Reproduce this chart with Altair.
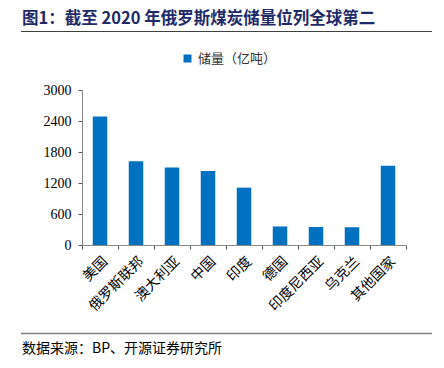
import altair as alt
import pandas as pd

categories = ["美国", "俄罗斯联邦", "澳大利亚", "中国", "印度", "德国", "印度尼西亚", "乌克兰", "其他国家"]
reserves = [2489, 1622, 1502, 1432, 1110, 359, 349, 344, 1533]
series_name = "储量（亿吨）"
y_ticks = [0, 600, 1200, 1800, 2400, 3000]
title_text = "图1：截至 2020 年俄罗斯煤炭储量位列全球第二"
source_text = "数据来源：BP、开源证券研究所"

df = pd.DataFrame({"国家": categories, "储量": reserves, "系列": [series_name] * len(categories)})
one = pd.DataFrame({"k": [0]})

CJK = "Noto Sans CJK SC"
SERIF = "Liberation Serif"

bars = alt.Chart(df).mark_bar(size=14.5, color="#0070C0").encode(
    x=alt.X("国家:N", sort=categories,
            scale=alt.Scale(paddingInner=0, paddingOuter=0),
            axis=alt.Axis(title=None, labelAngle=-45, labelFont=CJK, labelFontSize=14,
                          labelFontWeight="normal",
                          labelColor="#000000", tickBand="extent", tickSize=4,
                          tickColor="#555555", domainColor="#888888", labelPadding=5)),
    y=alt.Y("储量:Q", scale=alt.Scale(domain=[0, 3000], nice=False),
            axis=alt.Axis(title=None, values=y_ticks, format="d", grid=False, labelFont=SERIF,
                          labelFontSize=14, labelColor="#000000", tickSize=4,
                          tickColor="#555555", domainColor="#888888", labelPadding=7)),
    color=alt.Color("系列:N", scale=alt.Scale(range=["#0070C0"]),
                    legend=alt.Legend(title=None, orient="none", legendX=99, legendY=-38,
                                      symbolType="square", symbolSize=64,
                                      labelFont=CJK, labelFontSize=13, labelColor="#333333")),
)

title = alt.Chart(one).mark_text(text=title_text, align="left", baseline="middle",
                                 font=CJK, fontSize=16.5, fontWeight="bold",
                                 color="#1F2A68").encode(x=alt.value(-60), y=alt.value(-71))
top_line = alt.Chart(one).mark_rule(color="#404040", strokeWidth=1).encode(
    x=alt.value(-61), x2=alt.value(350), y=alt.value(-58.5))
bottom_line = alt.Chart(one).mark_rule(color="#808080", strokeWidth=1.7).encode(
    x=alt.value(-61), x2=alt.value(350), y=alt.value(243.5))
source = alt.Chart(one).mark_text(text=source_text, align="left", baseline="middle",
                                  font=CJK, fontSize=14, color="#000000").encode(
    x=alt.value(-60), y=alt.value(259))

chart = alt.layer(bars, title, top_line, bottom_line, source).properties(
    width=324, height=155,
    autosize=alt.AutoSizeParams(type="none"),
    padding={"left": 74, "top": 82, "right": 30, "bottom": 115},
).configure_view(strokeWidth=0)

chart.save("out.html", embed_options={"renderer": "svg", "actions": False})
